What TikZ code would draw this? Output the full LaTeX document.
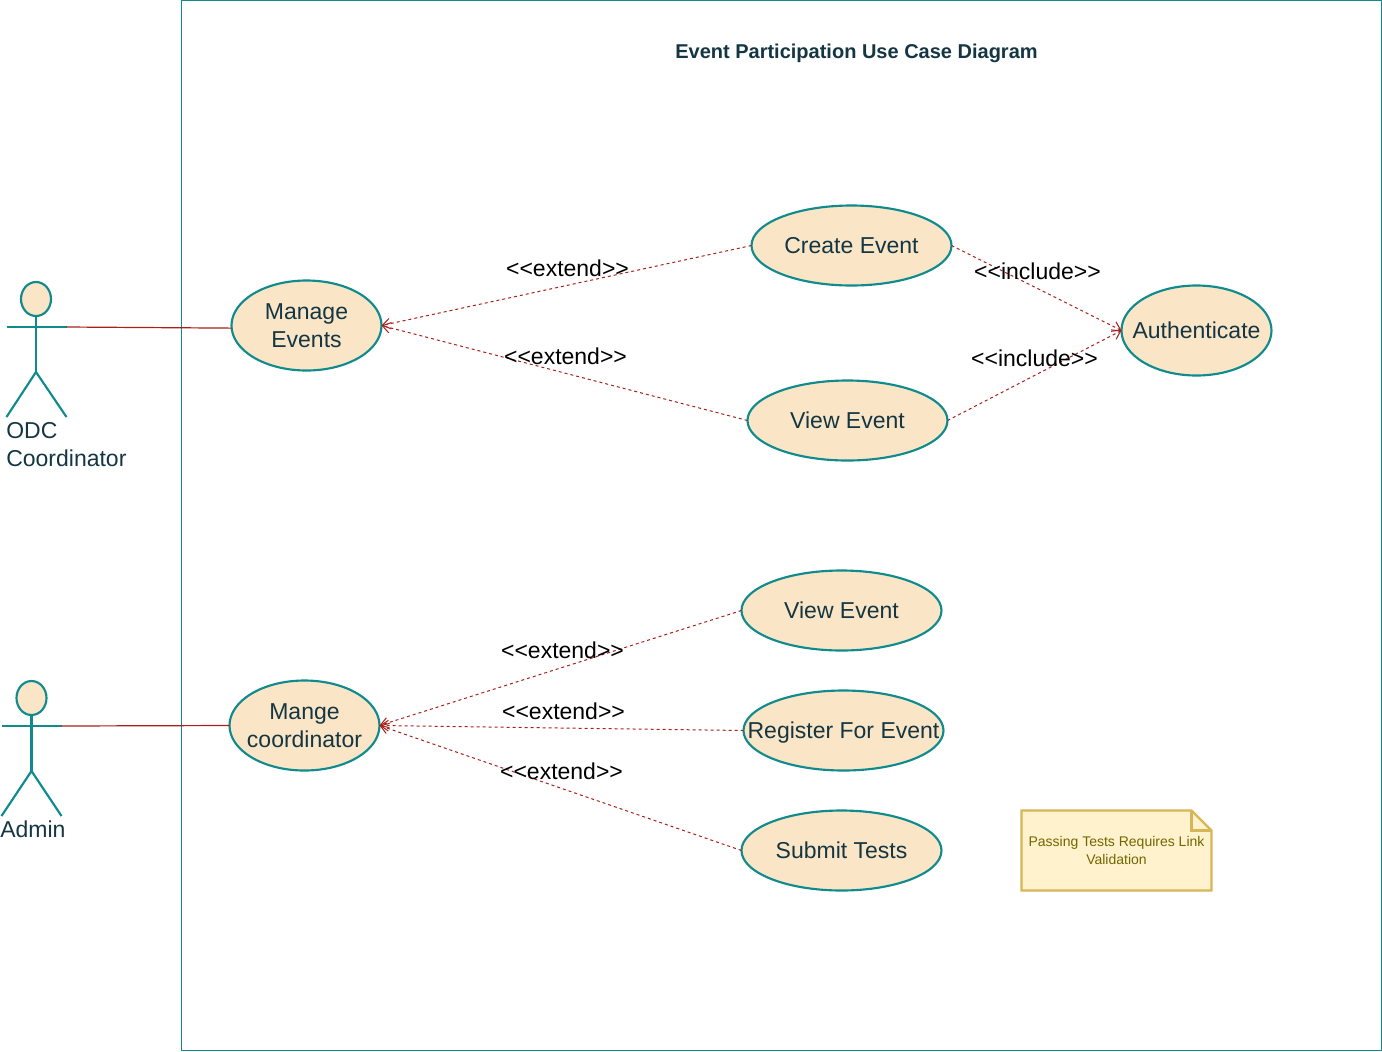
\documentclass[tikz,border=0pt]{standalone}
\usepackage{fontspec}
\setmainfont{Liberation Sans}
\usepackage{xcolor}
\usetikzlibrary{arrows.meta,positioning,shapes.geometric}
\definecolor{teal1}{HTML}{0F8B8D}
\definecolor{ink}{HTML}{143642}
\definecolor{peach}{HTML}{FAE5C7}
\definecolor{brick}{HTML}{A8201A}
\definecolor{notefill}{HTML}{FFF2CC}
\definecolor{noteline}{HTML}{D6B656}
\definecolor{noteink}{HTML}{736600}
\newcommand{\stereo}[1]{<{}<#1>{}>}

\begin{document}
\begin{tikzpicture}[x=0.75pt,y=-0.75pt,>={Straight Barb[length=6pt,width=8pt]},
  usecase/.style={ellipse,draw=teal1,fill=peach,line width=1.6pt,inner sep=0pt,outer sep=0pt,minimum width=150*0.75pt,minimum height=90*0.75pt,align=center,text=ink,font=\fontsize{17.25}{21}\selectfont},
  widecase/.style={usecase,minimum width=200*0.75pt,minimum height=80*0.75pt},
  actorhead/.style={ellipse,draw=teal1,fill=peach,line width=1.6pt,inner sep=0pt,outer sep=0pt,minimum width=30*0.75pt,minimum height=34*0.75pt},
  actorline/.style={draw=teal1,line width=1.6pt},
  actorname/.style={anchor=north west,inner sep=0pt,align=left,text=ink,font=\fontsize{17.25}{21}\selectfont},
  assoc/.style={draw=brick,line width=0.9pt},
  dep/.style={draw=brick,line width=0.75pt,dash pattern=on 2.25pt off 2.25pt,->},
  deplabel/.style={inner sep=0pt,text=black,font=\fontsize{17.25}{21}\selectfont}]
  \useasboundingbox (0,0) rectangle (1382,1051);
  \node[draw=teal1,line width=0.75pt,inner sep=0pt,outer sep=0pt,minimum width=1200*0.75pt,minimum height=1050*0.75pt] (frame) at (781.5,525.5) {};
  \node[text=ink,inner sep=0pt,font=\bfseries\fontsize{15}{18}\selectfont] (title) at (856.5,53) {Event Participation Use Case Diagram};

  \node[actorhead] (odchead) at (36,299) {};
  \coordinate (odcleft) at (6.5,327);
  \coordinate (odcright) at (66.5,327);
  \coordinate (odchip) at (36,372);
  \coordinate (odcfootl) at (6.5,417);
  \coordinate (odcfootr) at (66.5,417);
  \draw[actorline] (odchead.south) -- (odchip);
  \draw[actorline] (odcleft) -- (odcright);
  \draw[actorline] (odcfootl) -- (odchip) -- (odcfootr);
  \node[actorname] (odcname) at (6,422) {ODC\\Coordinator};

  \node[actorhead] (adminhead) at (31.5,698) {};
  \coordinate (adminleft) at (1.5,726);
  \coordinate (adminright) at (61.5,726);
  \coordinate (adminhip) at (31.5,771);
  \coordinate (adminfootl) at (1.5,816);
  \coordinate (adminfootr) at (61.5,816);
  \draw[actorline] (adminhead.south) -- (adminhip);
  \draw[actorline] (adminleft) -- (adminright);
  \draw[actorline] (adminfootl) -- (adminhip) -- (adminfootr);
  \node[actorname] (adminname) at (0,821) {Admin};

  \node[usecase] (events) at (306.5,325.5) {Manage\\Events};
  \node[widecase] (create) at (851.5,245.5) {Create Event};
  \node[widecase] (view) at (847.5,420.5) {View Event};
  \node[usecase] (auth) at (1196.5,330.5) {\makebox[0pt]{Authenticate}};
  \node[usecase] (mange) at (304.5,725.5) {Mange\\\makebox[0pt]{coordinator}};
  \node[widecase] (viewtwo) at (841.5,610.5) {View Event};
  \node[widecase] (register) at (843.5,730.5) {\raisebox{0pt}[\height][0pt]{\makebox[0pt]{Register For Event}}};
  \node[widecase] (submit) at (841.5,850.5) {Submit Tests};

  \draw[assoc] (odcright) -- (events.182.7);
  \draw[assoc] (adminright) -- (mange.west);
  \draw[dep] (create.west) -- (events.east);
  \draw[dep] (view.west) -- (events.east);
  \draw[dep] (create.east) -- (auth.west);
  \draw[dep] (view.east) -- (auth.west);
  \draw[dep] (viewtwo.west) -- (mange.east);
  \draw[dep] (register.west) -- (mange.east);
  \draw[dep] (submit.west) -- (mange.east);

  \node[deplabel] (lblcreate) at (567.5,268) {\stereo{extend}};
  \node[deplabel] (lblview) at (565.5,356) {\stereo{extend}};
  \node[deplabel] (lblauthone) at (1037.5,271) {\stereo{include}};
  \node[deplabel] (lblauthtwo) at (1034.5,358) {\stereo{include}};
  \node[deplabel] (lblviewtwo) at (562.5,650) {\stereo{extend}};
  \node[deplabel] (lblregister) at (563.5,711) {\stereo{extend}};
  \node[deplabel] (lblsubmit) at (561.5,771) {\stereo{extend}};

  \draw[draw=noteline,fill=notefill,line width=1.6pt] (1021.5,810.5) -- (1191.5,810.5) -- (1211.5,830.5) -- (1211.5,890.5) -- (1021.5,890.5) -- cycle;
  \draw[draw=noteline,line width=1.6pt] (1191.5,810.5) -- (1191.5,830.5) -- (1211.5,830.5);
  \node[align=center,inner sep=0pt,text=noteink,font=\fontsize{10.5}{12.8}\selectfont] (note) at (1116.5,850.5) {Passing Tests Requires Link\\Validation};
\end{tikzpicture}
\end{document}
